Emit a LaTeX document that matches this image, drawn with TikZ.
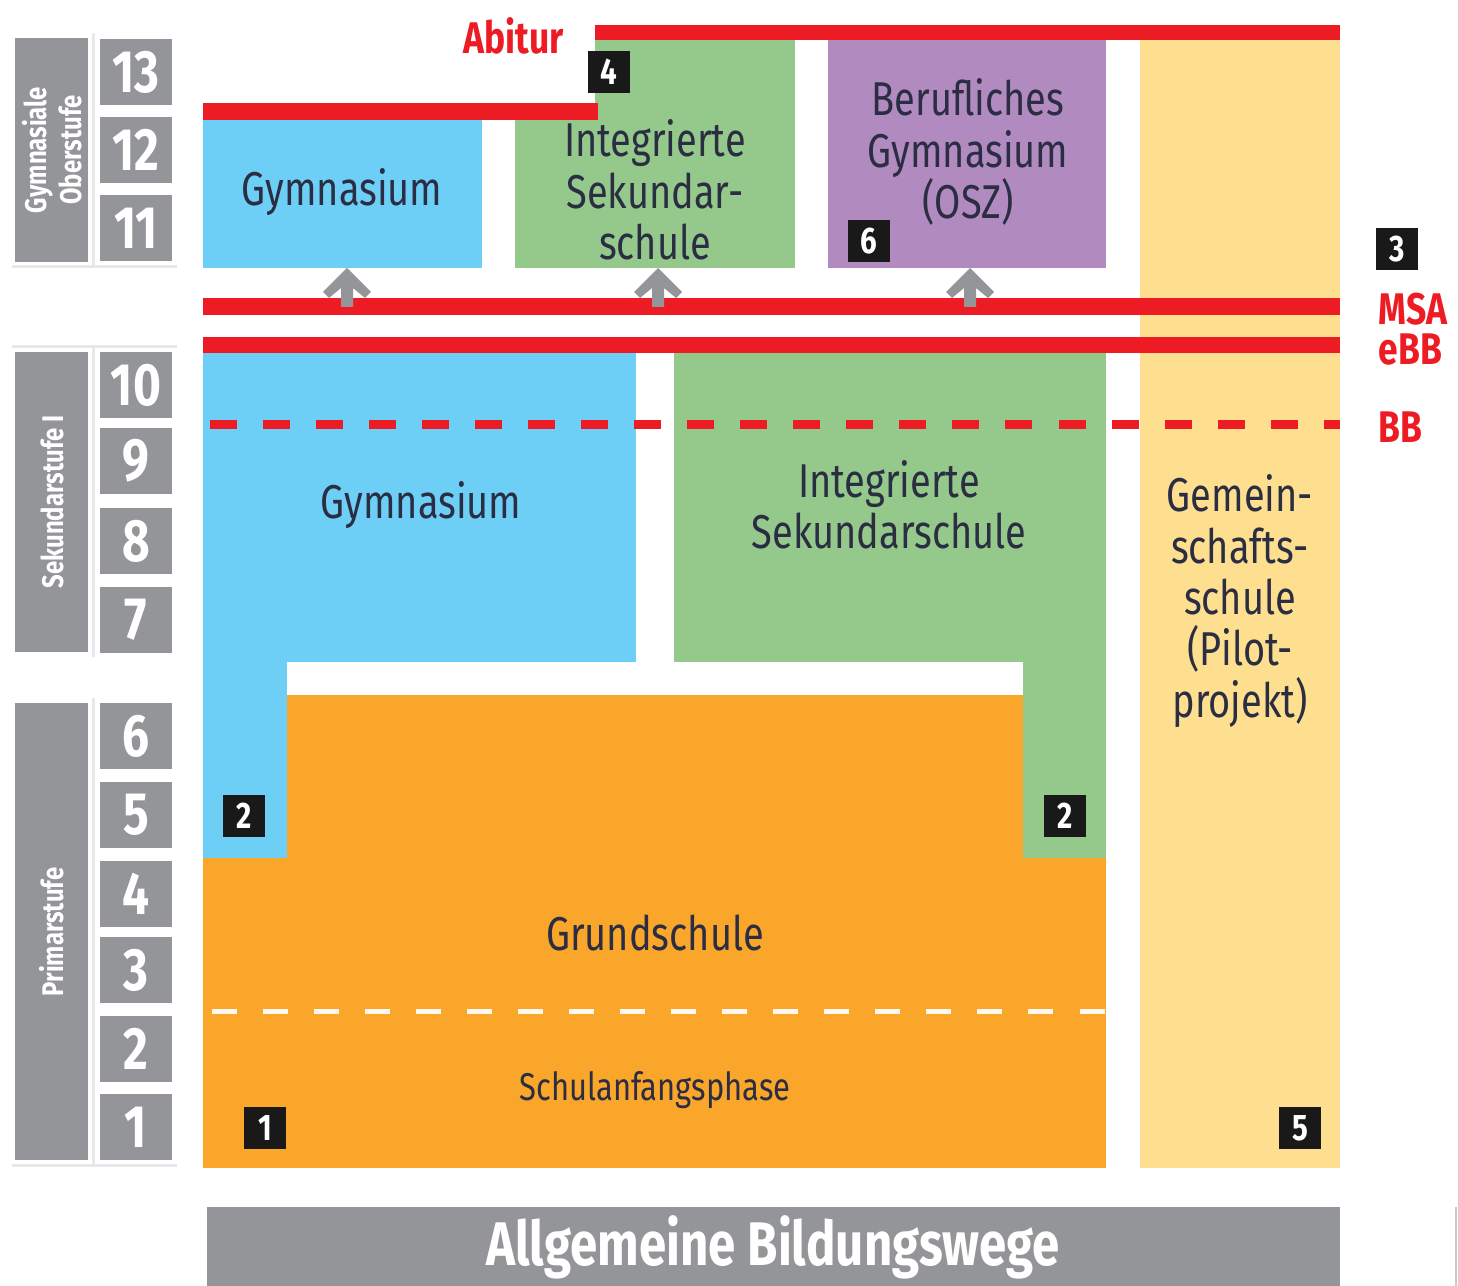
\documentclass[tikz,border=0pt]{standalone}
\usepackage{fontspec}
\setmainfont[FakeStretch=0.8]{Fira Sans}
\usetikzlibrary{positioning}

\definecolor{gymblue}{HTML}{6DCFF6}
\definecolor{issgreen}{HTML}{95C98B}
\definecolor{osziviolet}{HTML}{B18AC0}
\definecolor{gemyellow}{HTML}{FDDF8F}
\definecolor{gsorange}{HTML}{F9A62B}
\definecolor{abired}{HTML}{ED1C24}
\definecolor{stufegray}{HTML}{939598}
\definecolor{seplight}{HTML}{E8E8E8}
\definecolor{txtdark}{HTML}{2B2D42}

\tikzset{
  schooltext/.style={text=txtdark, align=center, inner sep=0pt,
    font=\fontsize{13.5}{14.6}\selectfont},
  gradenum/.style={text=white, inner sep=0pt, font=\fontsize{17}{17}\selectfont\bfseries},
  stufelabel/.style={text=white, align=center, inner sep=0pt, rotate=90,
    font=\fontsize{8.5}{9.8}\selectfont\bfseries},
  numbox/.style={fill=black!90, text=white, minimum size=0.42cm, inner sep=0pt,
    font=\fontsize{10.5}{10.5}\selectfont\bfseries},
  redlabel/.style={text=abired, inner sep=0pt, text depth=0pt,
    font=\fontsize{12.6}{12.6}\selectfont\bfseries},
  uparrow/.pic={\fill[stufegray] (0,0) -- (24,24) -- (18,30) -- (6,20) -- (6,39)
    -- (-6,39) -- (-6,20) -- (-18,30) -- (-24,24) -- cycle;}
}

\begin{document}
\begin{tikzpicture}[x=0.01cm,y=-0.01cm]
\useasboundingbox (0,0) rectangle (1458,1286);

% Stufen links
\fill[stufegray] (15,38) rectangle (88,262); % Gymnasiale Oberstufe
\fill[stufegray] (15,352) rectangle (88,652); % Sekundarstufe I
\fill[stufegray] (15,703) rectangle (88,1160); % Primarstufe
\draw[seplight, line width=0.03cm] (93,33) -- (93,267) (12,267) -- (177,267);
\draw[seplight, line width=0.03cm] (93,347) -- (93,657) (12,347) -- (177,347);
\draw[seplight, line width=0.03cm] (93,698) -- (93,1165) (12,1165) -- (177,1165);
\node[stufelabel] (obst) at (52,150) {Gymnasiale\\Oberstufe};
\node[stufelabel] (seki) at (52,502) {Sekundarstufe I};
\node[stufelabel] (prim) at (52,932) {Primarstufe};
\foreach \g/\top in {13/39,12/117,11/195,10/352,9/428,8/508,7/587,6/703,5/782,4/861,3/937,2/1016,1/1094}{
  \fill[stufegray] (100,\top) rectangle ++(72,66);
  \node[gradenum] (grade\g) at (136,\top+33) {\g};
}

% Oberstufe
\fill[gymblue] (203,120) rectangle (482,268); % Gymnasium oben
\fill[issgreen] (595,40) rectangle (795,268); % ISS oben
\fill[issgreen] (515,120) rectangle (595,268);
\fill[osziviolet] (828,40) rectangle (1106,268); % OSZ
\fill[gemyellow] (1140,40) rectangle (1340,1168); % Gemeinschaftsschule
\fill[abired] (203,103) rectangle (598,120); % Abitur Gymnasium
\fill[abired] (595,25) rectangle (1340,40); % Abitur ISS/OSZ

% MSA / eBB
\fill[abired] (203,298) rectangle (1340,315);
\fill[abired] (203,337) rectangle (1340,353);
\foreach \ax in {347,658,970}{
  \pic at (\ax,268) {uparrow};
}

% Sekundarstufe I
\fill[gymblue] (203,353) rectangle (636,662);
\fill[gymblue] (203,662) rectangle (287,858);
\fill[issgreen] (674,353) rectangle (1106,662);
\fill[issgreen] (1023,662) rectangle (1106,858);

% Grundschule
\fill[gsorange] (287,695) rectangle (1023,858);
\fill[gsorange] (203,858) rectangle (1106,1168);

% BB und Schulanfangsphase
\draw[abired, line width=0.09cm, dash pattern=on 0.27cm off 0.26cm] (210,425) -- (1340,425);
\draw[white!92!gsorange, line width=0.05cm, dash pattern=on 0.25cm off 0.26cm] (212,1011) -- (1106,1011);

% Texte
\node[schooltext] (gymob) at (342,192) {Gymnasium};
\node[schooltext] (issob) at (655,190) {Integrierte\\Sekundar-\\schule};
\node[schooltext] (bgosz) at (968,152) {Berufliches\\Gymnasium\\(OSZ)};
\node[schooltext] (gymsek) at (421,505) {Gymnasium};
\node[schooltext] (isssek) at (889,505) {Integrierte\\Sekundarschule};
\node[schooltext] (gemsch) at (1240,601) {Gemein-\\schafts-\\schule\\(Pilot-\\projekt)};
\node[schooltext] (grunds) at (655,933) {Grundschule};
\node[schooltext, font=\fontsize{11}{12}\selectfont] (saph) at (655,1090) {Schulanfangsphase};

\node[redlabel] (abi) at (514,36) {Abitur};
\node[redlabel, anchor=west] (msa) at (1378,309) {MSA};
\node[redlabel, anchor=west] (ebb) at (1378,349) {eBB};
\node[redlabel, anchor=west] (bb) at (1378,427) {BB};

% Fussnoten
\node[numbox] (n1) at (265,1128) {1};
\node[numbox] (n2l) at (244,816) {2};
\node[numbox] (n2r) at (1065,816) {2};
\node[numbox] (n3) at (1397,249) {3};
\node[numbox] (n4) at (609,72) {4};
\node[numbox] (n5) at (1300,1128) {5};
\node[numbox] (n6) at (869,241) {6};

% Leiste unten
\fill[stufegray] (207,1207) rectangle (1340,1286);
\node[text=white, font=\fontsize{17.5}{17.5}\selectfont\bfseries] (allg) at (773,1247) {Allgemeine Bildungswege};
\draw[stufegray!50, line width=0.02cm] (1456,1207) -- (1456,1286);

\end{tikzpicture}
\end{document}
